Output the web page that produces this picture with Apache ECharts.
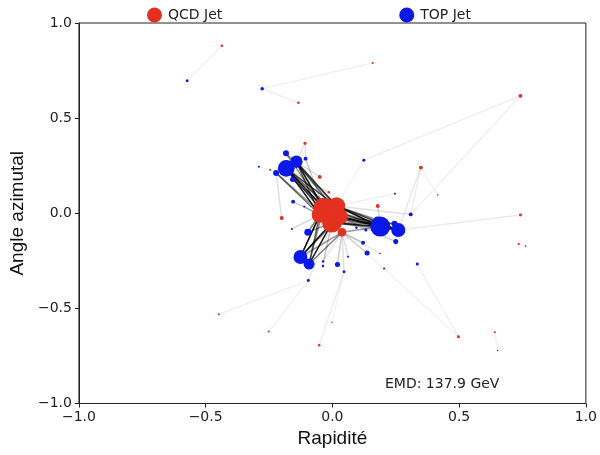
<!DOCTYPE html>
<html>
<head>
<meta charset="utf-8">
<script src="https://cdn.jsdelivr.net/npm/echarts@6/dist/echarts.min.js"></script>
<style>
  html, body { margin: 0; padding: 0; background: #fff; }
  #chart { width: 600px; height: 455px; }
</style>
</head>
<body>
<div id="chart"></div>
<script>
// QCD jet constituents: rapidity, azimuth, transverse momentum (GeV)
const qcdY   = [-0.035, 0.016, -0.002, -0.050, 0.030, 0.038, -0.200, -0.050, -0.014, -0.108, -0.246, 0.179, 0.349, 0.742, 0.742, -0.134, -0.436, 0.159, -0.448, -0.251, -0.002, -0.052, 0.497, 0.641, 0.735];
const qcdPhi = [0.030, 0.038, -0.050, -0.008, -0.018, -0.100, -0.025, 0.191, 0.110, 0.368, 0.228, 0.038, 0.240, 0.617, -0.009, 0.581, 0.881, 0.790, -0.531, -0.622, -0.573, -0.694, -0.649, -0.626, -0.161];
const qcdPt  = [150, 120, 150, 100, 100, 28, 6, 6, 2.4, 3.5, 1.6, 6, 6, 6, 3.5, 2.4, 2.4, 1.6, 1.6, 1.6, 0.9, 2.4, 3.5, 1.6, 1.6];

// Top jet constituents
const topY   = [-0.182, -0.142, -0.183, -0.222, -0.106, -0.157, -0.155, -0.290, 0.124, -0.097, -0.126, -0.092, -0.037, -0.037, 0.020, 0.046, -0.095, 0.062, 0.189, 0.260, 0.250, 0.137, 0.121, 0.132, 0.095, 0.309, 0.247, 0.204, 0.335, 0.188, -0.160, -0.573, -0.277, 0.762, 0.652, 0.416, -0.111, 0.178, 0.245];
const topPhi = [0.236, 0.271, 0.315, 0.212, 0.287, 0.178, 0.061, 0.245, 0.279, -0.100, -0.230, -0.267, -0.253, -0.277, -0.269, -0.307, -0.354, -0.229, -0.070, -0.088, -0.149, -0.209, -0.155, -0.088, -0.076, -0.006, 0.103, -0.291, -0.267, -0.211, -0.083, 0.696, 0.655, -0.172, -0.722, 0.096, 0.035, -0.035, -0.055];
const topPt  = [110, 60, 14, 14, 6, 10, 6, 1.6, 3.5, 19, 75, 47, 2.4, 2.4, 10, 3.5, 3.5, 1.6, 156, 77, 10, 10, 6, 3.5, 2.4, 6, 1.6, 1.6, 3.5, 0.9, 1.6, 3.5, 4.8, 0.9, 0.9, 0.9, 1.6, 19, 14];

// Optimal transport flows: QCD index -> Top index, relative amount
const flowFrom = [0, 0, 3, 1, 2, 0, 3, 1, 4, 2, 0, 1, 4, 3, 2,
                  1, 4, 2, 0, 4, 1, 2, 1, 4, 3, 0, 5, 2,
                  2, 3, 2, 0, 5, 3, 2, 0, 4, 5, 3,
                  16, 17, 15, 13, 13, 12, 12, 14, 24, 23, 22, 22, 18, 19, 21, 20, 6, 10, 10, 9, 9, 7, 8, 11,
                  5, 5, 5, 5, 5, 5, 2, 2, 4, 4, 4, 1, 1, 3, 3, 3, 2, 1, 5, 5, 12, 0];
const flowTo   = [0, 1, 0, 1, 0, 5, 3, 2, 1, 1, 2, 0, 0, 1, 3,
                  18, 18, 18, 18, 19, 19, 19, 37, 38, 18, 19, 18, 38,
                  10, 10, 11, 11, 11, 9, 9, 10, 10, 10, 11,
                  31, 32, 32, 8, 25, 19, 25, 19, 33, 34, 28, 27, 16, 16, 15, 15, 3, 3, 7, 4, 1, 1, 0, 18,
                  14, 15, 21, 22, 17, 12, 13, 12, 23, 24, 20, 25, 26, 6, 36, 30, 16, 8, 29, 27, 35, 4];
const flowAmt  = [1.0, 0.8, 0.9, 0.75, 0.7, 0.5, 0.55, 0.45, 0.6, 0.5, 0.45, 0.75, 0.6, 0.6, 0.4,
                  1.0, 0.95, 0.85, 0.65, 0.85, 0.75, 0.55, 0.5, 0.5, 0.6, 0.5, 0.4, 0.4,
                  0.95, 0.85, 0.9, 0.45, 0.5, 0.5, 0.4, 0.6, 0.5, 0.4, 0.6,
                  0.06, 0.06, 0.07, 0.07, 0.06, 0.09, 0.07, 0.08, 0.05, 0.06, 0.06, 0.05, 0.06, 0.06, 0.07, 0.05, 0.13, 0.09, 0.05, 0.1, 0.1, 0.15, 0.15, 0.15,
                  0.2, 0.12, 0.15, 0.2, 0.12, 0.1, 0.15, 0.1, 0.2, 0.2, 0.2, 0.12, 0.06, 0.2, 0.2, 0.15, 0.08, 0.05, 0.08, 0.06, 0.05, 0.2];

const emdValue = 137.9;
const axisTicks = [-1.0, -0.5, 0.0, 0.5, 1.0];

const RED = '#e3301f';
const BLUE = '#0a18e8';

const fmt = v => (v < 0 ? '\u2212' : '') + Math.abs(v).toFixed(1);
const markerSize = v => 1.6 * Math.sqrt(v[2]);

const qcdData = qcdY.map((y, i) => [y, qcdPhi[i], qcdPt[i]]);
const topData = topY.map((y, i) => [y, topPhi[i], topPt[i]]);
const flowData = flowFrom.map((a, k) => ({
  coords: [[qcdY[a], qcdPhi[a]], [topY[flowTo[k]], topPhi[flowTo[k]]]],
  lineStyle: { opacity: Math.min(1, flowAmt[k]) }
}));

const chart = echarts.init(document.getElementById('chart'), null, { renderer: 'canvas' });

const axisCommon = {
  type: 'value',
  min: axisTicks[0],
  max: axisTicks[axisTicks.length - 1],
  interval: 0.5,
  nameLocation: 'middle',
  nameTextStyle: { fontFamily: 'Liberation Sans', fontSize: 19, color: '#111' },
  axisLine: { show: true, onZero: false, lineStyle: { color: '#222', width: 1 } },
  axisTick: { show: true, inside: false, length: 4, lineStyle: { color: '#222' } },
  axisLabel: { formatter: fmt, fontFamily: 'DejaVu Sans', fontSize: 14, color: '#222', margin: 7 },
  splitLine: { show: false }
};

chart.setOption({
  animation: false,
  backgroundColor: '#fff',
  grid: { left: 78, right: 11, top: 23, bottom: 51.5, show: true, borderColor: '#222', borderWidth: 1, containLabel: false },
  legend: {
    data: [{ name: 'QCD Jet', icon: 'circle' }, { name: 'TOP Jet', icon: 'circle' }],
    left: 142, top: 2.5,
    itemWidth: 15, itemHeight: 15, itemGap: 177,
    textStyle: { fontFamily: 'DejaVu Sans', fontSize: 14, color: '#222', padding: [0, 0, 0, 1] }
  },
  xAxis: Object.assign({}, axisCommon, { name: 'Rapidité', nameGap: 25 }),
  yAxis: Object.assign({}, axisCommon, { name: 'Angle azimutal', nameGap: 48 }),
  graphic: [{
    type: 'text', left: 385, top: 377,
    style: { text: 'EMD: ' + emdValue.toFixed(1) + ' GeV', font: '14px "DejaVu Sans"', fill: '#222' }
  }],
  series: [
    {
      name: 'flow', type: 'lines', coordinateSystem: 'cartesian2d', z: 1,
      silent: true, polyline: false,
      lineStyle: { color: '#000', width: 1.5 },
      data: flowData
    },
    {
      name: 'QCD Jet', type: 'scatter', z: 3,
      symbol: 'circle', symbolSize: markerSize,
      itemStyle: { color: RED, opacity: 1 },
      data: qcdData
    },
    {
      name: 'TOP Jet', type: 'scatter', z: 4,
      symbol: 'circle', symbolSize: markerSize,
      itemStyle: { color: BLUE, opacity: 1 },
      data: topData
    }
  ]
});
</script>
</body>
</html>
